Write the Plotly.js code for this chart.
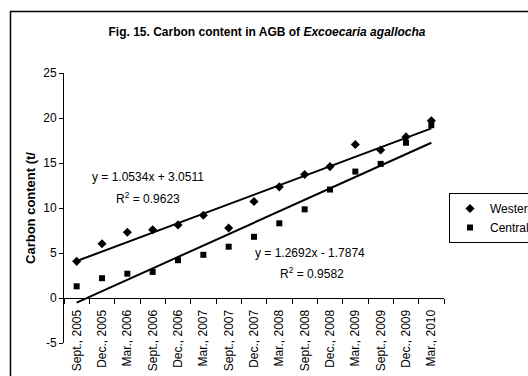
<!DOCTYPE html>
<html>
<head>
<meta charset="utf-8">
<script src="https://cdn.plot.ly/plotly-3.0.1.min.js"></script>
<style>
html,body{margin:0;padding:0;background:#fff;overflow:hidden;}
#chart{width:528px;height:376px;}
</style>
</head>
<body>
<div id="chart"></div>
<script>
const categories = ["Sept., 2005","Dec., 2005","Mar., 2006","Sept., 2006","Dec., 2006","Mar., 2007","Sept., 2007","Dec., 2007","Mar., 2008","Sept., 2008","Dec., 2008","Mar., 2009","Sept., 2009","Dec., 2009","Mar., 2010"];
const western = [4.07, 6.03, 7.3, 7.58, 8.12, 9.2, 7.78, 10.72, 12.35, 13.72, 14.6, 17.05, 16.45, 17.9, 19.7];
const central = [1.3, 2.2, 2.7, 2.9, 4.2, 4.8, 5.7, 6.8, 8.3, 9.85, 12.05, 14.05, 14.9, 17.25, 19.2];
const westernFit = {slope: 1.0534, intercept: 3.0511};
const centralFit = {slope: 1.2692, intercept: -1.7874};
const yTicks = [-5, 0, 5, 10, 15, 20, 25];

const FONT = "'Liberation Sans', Arial, sans-serif";
const trend = (fit) => categories.map((c, i) => fit.slope * (i + 1) + fit.intercept);

// plot area in pixels
const L = 64, T = 73, W = 380, H = 270, R = 528 - L - W, B = 376 - T - H;
const px = (x) => (x - L) / W;
const py = (y) => (T + H - y) / H;

const traces = [
  {x: categories, y: western, type: 'scatter', mode: 'markers', name: 'Western',
   marker: {symbol: 'diamond', size: 7, color: '#000'}},
  {x: categories, y: central, type: 'scatter', mode: 'markers', name: 'Central',
   marker: {symbol: 'square', size: 6, color: '#000'}},
  {x: categories, y: trend(westernFit), type: 'scatter', mode: 'lines', showlegend: false,
   line: {color: '#000', width: 2}, hoverinfo: 'skip'},
  {x: categories, y: trend(centralFit), type: 'scatter', mode: 'lines', showlegend: false,
   line: {color: '#000', width: 2}, hoverinfo: 'skip'}
];

const layout = {
  width: 528, height: 376,
  margin: {l: L, r: R, t: T, b: B, autoexpand: false},
  paper_bgcolor: '#fff', plot_bgcolor: '#fff',
  font: {family: FONT, size: 12, color: '#000'},
  showlegend: true,
  title: {
    text: '<b>Fig. 15. Carbon content in AGB of <i>Excoecaria agallocha</i></b>',
    font: {family: FONT, size: 12, color: '#000'},
    xref: 'container', yref: 'container', x: 267 / 528, y: 1 - 32 / 376,
    xanchor: 'center', yanchor: 'middle'
  },
  xaxis: {
    type: 'category', range: [-0.5, categories.length - 0.5],
    anchor: 'free', position: 5 / 30,
    showline: true, linecolor: '#000', linewidth: 1,
    ticks: 'outside', tickson: 'boundaries', ticklen: 5, tickcolor: '#000',
    ticklabelstandoff: 6,
    tickangle: -90, tickfont: {family: FONT, size: 12, color: '#000'},
    showgrid: false, zeroline: false, automargin: false, fixedrange: true
  },
  yaxis: {
    range: [-5, 25], tickvals: yTicks, ticktext: yTicks.map(String),
    showline: true, linecolor: '#000', linewidth: 1,
    ticks: 'outside', ticklen: 4, tickcolor: '#000',
    tickfont: {family: FONT, size: 12, color: '#000'},
    showgrid: false, zeroline: false, automargin: false, fixedrange: true,
    title: {text: '<b>Carbon content (t/</b>', font: {family: FONT, size: 13, color: '#000'}, standoff: 4}
  },
  legend: {
    x: px(449), y: py(193), xanchor: 'left', yanchor: 'top',
    bordercolor: '#000', borderwidth: 1, bgcolor: '#fff',
    font: {family: FONT, size: 12, color: '#000'},
    tracegroupgap: 0
  },
  annotations: [
    {text: 'y = 1.0534x + 3.0511', xref: 'paper', yref: 'paper', x: px(147.5), y: py(177), showarrow: false, xanchor: 'center', yanchor: 'middle'},
    {text: 'R<sup>2</sup> = 0.9623', xref: 'paper', yref: 'paper', x: px(148), y: py(198), showarrow: false, xanchor: 'center', yanchor: 'middle'},
    {text: 'y = 1.2692x - 1.7874', xref: 'paper', yref: 'paper', x: px(310), y: py(253), showarrow: false, xanchor: 'center', yanchor: 'middle'},
    {text: 'R<sup>2</sup> = 0.9582', xref: 'paper', yref: 'paper', x: px(312), y: py(273), showarrow: false, xanchor: 'center', yanchor: 'middle'}
  ],
  shapes: [
    {type: 'rect', xref: 'paper', yref: 'paper', x0: px(10.5), x1: px(560), y0: py(11.5), y1: py(400),
     line: {color: '#000', width: 1.5}, fillcolor: 'rgba(0,0,0,0)', layer: 'below'}
  ]
};

Plotly.newPlot('chart', traces, layout, {displayModeBar: false, staticPlot: true});
</script>
</body>
</html>
